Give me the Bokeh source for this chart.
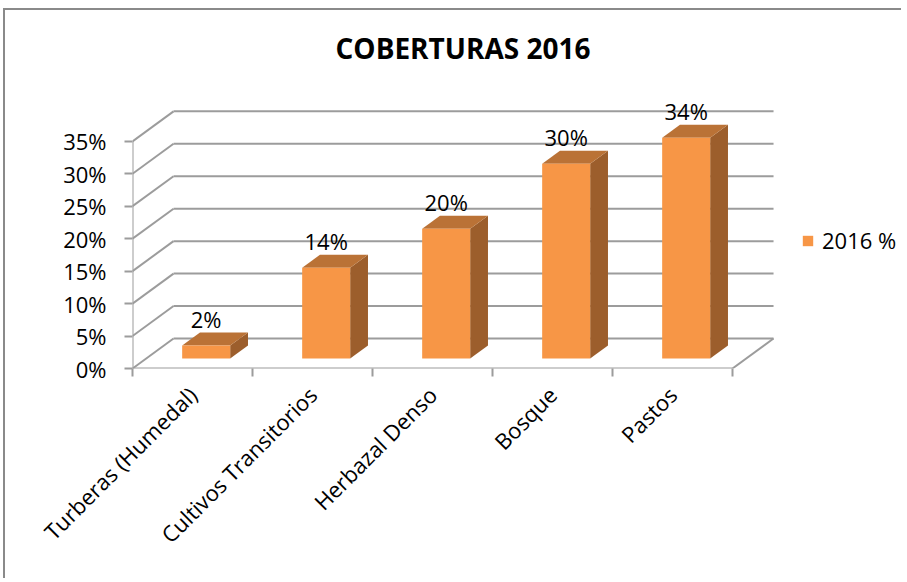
import math
from bokeh.plotting import figure
from bokeh.models import (Range1d, FixedTicker, PrintfTickFormatter, ColumnDataSource,
                          Legend, LegendItem)
from bokeh.core.properties import value
from bokeh.embed import file_html
from bokeh.resources import INLINE

# ---------------- data ----------------
title_text = "COBERTURAS 2016"
categories = ["Turberas (Humedal)", "Cultivos Transitorios", "Herbazal Denso", "Bosque", "Pastos"]
values_2016 = [2, 14, 20, 30, 34]
series_name = "2016 %"
y_ticks = [0, 5, 10, 15, 20, 25, 30, 35]

# ---------------- style ----------------
DEPTH_X = 0.342      # full depth of the 3D box, in category units
DEPTH_Y = 4.62       # full depth of the 3D box, in % units
BAR_FRONT = 0.333    # depth fraction of bar front face
BAR_BACK = 0.767     # depth fraction of bar back face
BAR_W = 0.4

FRONT = "#F79646"
TOP = "#BA7236"
SIDE = "#9C5E2C"
GRID = "#9c9c9c"
FONT = "Open Sans"

n = len(categories)
y_max = max(y_ticks)

p = figure(width=898, height=570, x_range=Range1d(0, 6.4), y_range=Range1d(0, 43.91),
           output_backend="svg", toolbar_location=None,
           min_border_left=127, min_border_right=3, min_border_top=73, min_border_bottom=212)
p.outline_line_color = None
p.xgrid.visible = False
p.ygrid.visible = False
p.background_fill_color = "white"
p.border_fill_color = "white"
p.styles = {"margin-left": "3px", "margin-top": "8px",
            "border-left": "2px solid #8a8a8a", "border-top": "2px solid #8a8a8a"}

# ---------------- 3D walls / grid ----------------
grid_src = ColumnDataSource(dict(
    x0=[DEPTH_X] * len(y_ticks), x1=[n + DEPTH_X] * len(y_ticks),
    y=[t + DEPTH_Y for t in y_ticks]))
p.segment(x0="x0", y0="y", x1="x1", y1="y", source=grid_src, line_color=GRID, line_width=2)

wall_src = ColumnDataSource(dict(
    x0=[0] * len(y_ticks), y0=y_ticks,
    x1=[DEPTH_X] * len(y_ticks), y1=[t + DEPTH_Y for t in y_ticks]))
p.segment(x0="x0", y0="y0", x1="x1", y1="y1", source=wall_src, line_color=GRID, line_width=2)

edge_src = ColumnDataSource(dict(
    x0=[0, n, 0], y0=[0, 0, 0],
    x1=[n, n + DEPTH_X, 0], y1=[0, DEPTH_Y, y_max]))
p.segment(x0="x0", y0="y0", x1="x1", y1="y1", source=edge_src, line_color=GRID, line_width=2)

# ---------------- 3D bars ----------------
ddx = (BAR_BACK - BAR_FRONT) * DEPTH_X
ddy = (BAR_BACK - BAR_FRONT) * DEPTH_Y
base = BAR_FRONT * DEPTH_Y
cx = [i + 0.5 + BAR_FRONT * DEPTH_X for i in range(n)]
left = [c - BAR_W / 2 for c in cx]
right = [c + BAR_W / 2 for c in cx]
tops = [v + base for v in values_2016]

side_src = ColumnDataSource(dict(
    xs=[[r, r, r + ddx, r + ddx] for r in right],
    ys=[[base, t, t + ddy, base + ddy] for t in tops]))
p.patches("xs", "ys", source=side_src, fill_color=SIDE, line_color=None)

top_src = ColumnDataSource(dict(
    xs=[[l, r, r + ddx, l + ddx] for l, r in zip(left, right)],
    ys=[[t, t, t + ddy, t + ddy] for t in tops]))
p.patches("xs", "ys", source=top_src, fill_color=TOP, line_color=None)

front_src = ColumnDataSource(dict(left=left, right=right, bottom=[base] * n, top=tops))
front = p.quad(left="left", right="right", bottom="bottom", top="top", source=front_src,
               fill_color=FRONT, line_color=None)

# ---------------- data labels ----------------
lab_src = ColumnDataSource(dict(
    x=cx, y=[v + BAR_BACK * DEPTH_Y for v in values_2016],
    text=[f"{v}%" for v in values_2016]))
p.text(x="x", y="y", text="text", source=lab_src, text_align="center",
       text_baseline="alphabetic", y_offset=-14, text_font=value(FONT),
       text_font_size="22px", text_color="black")

# ---------------- axes ----------------
xa = p.xaxis[0]
xa.ticker = FixedTicker(ticks=[i + 0.5 for i in range(n)], minor_ticks=list(range(n + 1)))
xa.major_label_overrides = {i + 0.5: c for i, c in enumerate(categories)}
xa.major_label_orientation = math.pi / 4
xa.axis_line_color = None
xa.major_tick_line_color = None
xa.major_tick_out = 8
xa.major_tick_in = 0
xa.minor_tick_line_color = GRID
xa.minor_tick_line_width = 2
xa.minor_tick_out = 8
xa.minor_tick_in = 0
xa.major_label_standoff = 14
xa.major_label_text_font = FONT
xa.major_label_text_font_size = "22px"
xa.major_label_text_color = "black"

ya = p.yaxis[0]
ya.ticker = FixedTicker(ticks=y_ticks)
ya.formatter = PrintfTickFormatter(format="%d%%")
ya.axis_line_color = None
ya.major_tick_line_color = GRID
ya.major_tick_line_width = 2
ya.major_tick_out = 8
ya.major_tick_in = 0
ya.minor_tick_line_color = None
ya.major_label_standoff = 18
ya.major_label_text_font = FONT
ya.major_label_text_font_size = "22px"
ya.major_label_text_color = "black"

# ---------------- legend ----------------
legend = Legend(items=[LegendItem(label=series_name, renderers=[front])],
                location=(669, 113), padding=0, margin=0, spacing=0,
                glyph_width=13, glyph_height=13, label_standoff=8,
                label_text_font=FONT, label_text_font_size="22px", label_text_color="black",
                border_line_color=None, background_fill_alpha=0)
p.add_layout(legend)

# ---------------- title ----------------
p.title.text = title_text
p.title.align = "left"
p.title.offset = 203
p.title.standoff = 33
p.title.text_font = FONT
p.title.text_font_style = "bold"
p.title.text_font_size = "28px"
p.title.text_color = "black"

open("out.html", "w").write(file_html(p, INLINE))
